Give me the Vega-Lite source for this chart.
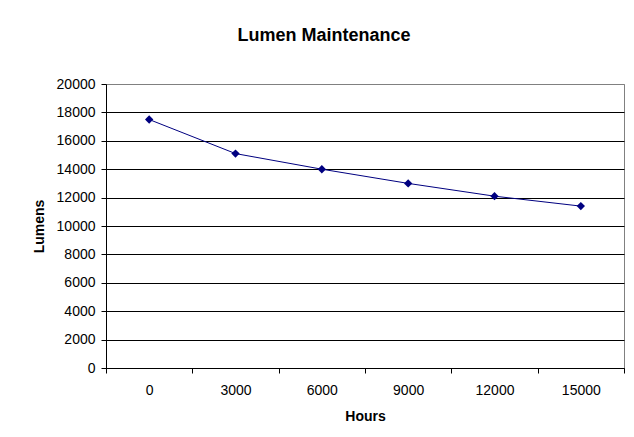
{
  "$schema": "https://vega.github.io/schema/vega-lite/v6.json",
  "width": 518,
  "height": 284,
  "autosize": "none",
  "padding": {"left": 106, "top": 84, "right": 10, "bottom": 69},
  "background": "white",
  "title": {
    "text": "Lumen Maintenance",
    "font": "Liberation Sans",
    "fontSize": 18,
    "fontWeight": "bold",
    "color": "black",
    "anchor": "middle",
    "baseline": "alphabetic",
    "offset": 18,
    "dx": -41
  },
  "data": {
    "values": [
      {"hours": "0", "lumens": 17500},
      {"hours": "3000", "lumens": 15100},
      {"hours": "6000", "lumens": 14000},
      {"hours": "9000", "lumens": 13000},
      {"hours": "12000", "lumens": 12100},
      {"hours": "15000", "lumens": 11400}
    ]
  },
  "mark": {
    "type": "line",
    "color": "#000080",
    "strokeWidth": 1,
    "point": {"shape": "diamond", "size": 70, "filled": true, "color": "#000080", "opacity": 1}
  },
  "encoding": {
    "x": {
      "field": "hours",
      "type": "ordinal",
      "sort": null,
      "scale": {"type": "band", "paddingInner": 0, "paddingOuter": 0},
      "axis": {
        "title": "Hours",
        "labelAngle": 0,
        "tickBand": "extent",
        "grid": false,
        "tickSize": 5,
        "labelPadding": 10,
        "titlePadding": 12
      }
    },
    "y": {
      "field": "lumens",
      "type": "quantitative",
      "scale": {"domain": [0, 20000], "nice": false},
      "axis": {
        "title": "Lumens",
        "values": [0, 2000, 4000, 6000, 8000, 10000, 12000, 14000, 16000, 18000, 20000],
        "format": "d",
        "tickSize": 5,
        "labelPadding": 6,
        "titlePadding": 10,
        "grid": true,
        "gridColor": {"condition": {"test": "datum.value === 20000", "value": "#808080"}, "value": "black"},
        "gridOpacity": 1,
        "gridWidth": 1
      }
    }
  },
  "config": {
    "font": "Liberation Sans",
    "view": {"stroke": "#808080", "strokeWidth": 1},
    "axis": {
      "labelFont": "Liberation Sans",
      "labelFontSize": 14,
      "labelColor": "black",
      "titleFont": "Liberation Sans",
      "titleFontSize": 14,
      "titleFontWeight": "bold",
      "titleColor": "black",
      "domainColor": "black",
      "domainWidth": 1,
      "tickColor": "black",
      "tickWidth": 1
    }
  }
}
